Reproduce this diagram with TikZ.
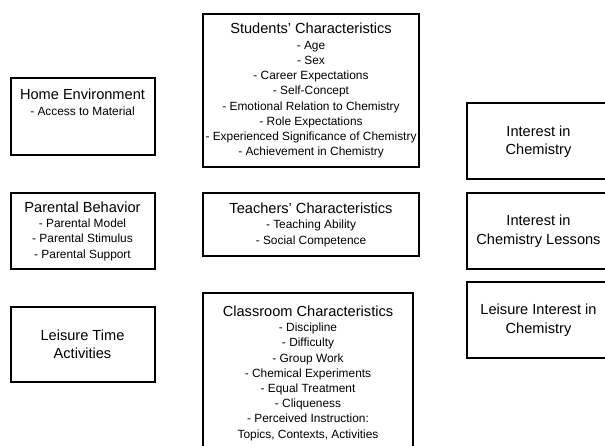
\documentclass[tikz,border=0pt]{standalone}
\usepackage{fontspec}
\setmainfont{Liberation Sans}
\usetikzlibrary{positioning}

\tikzset{
	factor/.style={draw,line width=2pt,rectangle,anchor=north west,outer sep=0pt,inner sep=0pt,align=center,font=\fontsize{11.9}{15.2}\selectfont},
	head/.style={font=\fontsize{14.6}{18.5}\selectfont}
}
\newcommand{\boxhead}[1]{{\fontsize{14.6}{16}\selectfont #1}\\[0.5pt]}

\begin{document}
\begin{tikzpicture}[x=1pt,y=-1pt]
					\useasboundingbox (0,0) rectangle (605,446);
					\clip (0,0) rectangle (605,446);
					% left column
					\node[factor,minimum width=144pt,minimum height=77pt] (home) at (10.5,78.5) {\boxhead{Home Environment}- Access to Material\\[14pt]};
					\node[factor,minimum width=144pt,minimum height=76pt] (parent) at (10.5,193) {\boxhead{Parental Behavior}- Parental Model\\- Parental Stimulus\\- Parental Support};
					\node[factor,head,minimum width=144pt,minimum height=75pt] (leisure) at (10.5,307) {Leisure Time\\Activities};
					% middle column
					\node[factor,minimum width=216pt,minimum height=153pt] (students) at (203,14) {\boxhead{Students' Characteristics}- Age\\- Sex\\- Career Expectations\\- Self-Concept\\- Emotional Relation to Chemistry\\- Role Expectations\\- Experienced Significance of Chemistry\\- Achievement in Chemistry};
					\node[factor,minimum width=216pt,minimum height=63pt] (teachers) at (203,193) {\boxhead{Teachers' Characteristics}- Teaching Ability\\- Social Competence};
					\node[factor,minimum width=210pt,minimum height=160pt] (classroom) at (203,293) {\boxhead{Classroom Characteristics}- Discipline\\- Difficulty\\- Group Work\\- Chemical Experiments\\- Equal Treatment\\- Cliqueness\\- Perceived Instruction:\\Topics, Contexts, Activities};
					% right column
					\node[factor,head,minimum width=144pt,minimum height=76pt] (intchem) at (466.5,103.5) {Interest in\\Chemistry};
					\node[factor,head,minimum width=144pt,minimum height=76pt] (intlesson) at (466.5,193) {Interest in\\Chemistry Lessons};
					\node[factor,head,minimum width=144pt,minimum height=75pt] (intleisure) at (466.5,282.5) {Leisure Interest in\\Chemistry};
				\end{tikzpicture}
\end{document}
